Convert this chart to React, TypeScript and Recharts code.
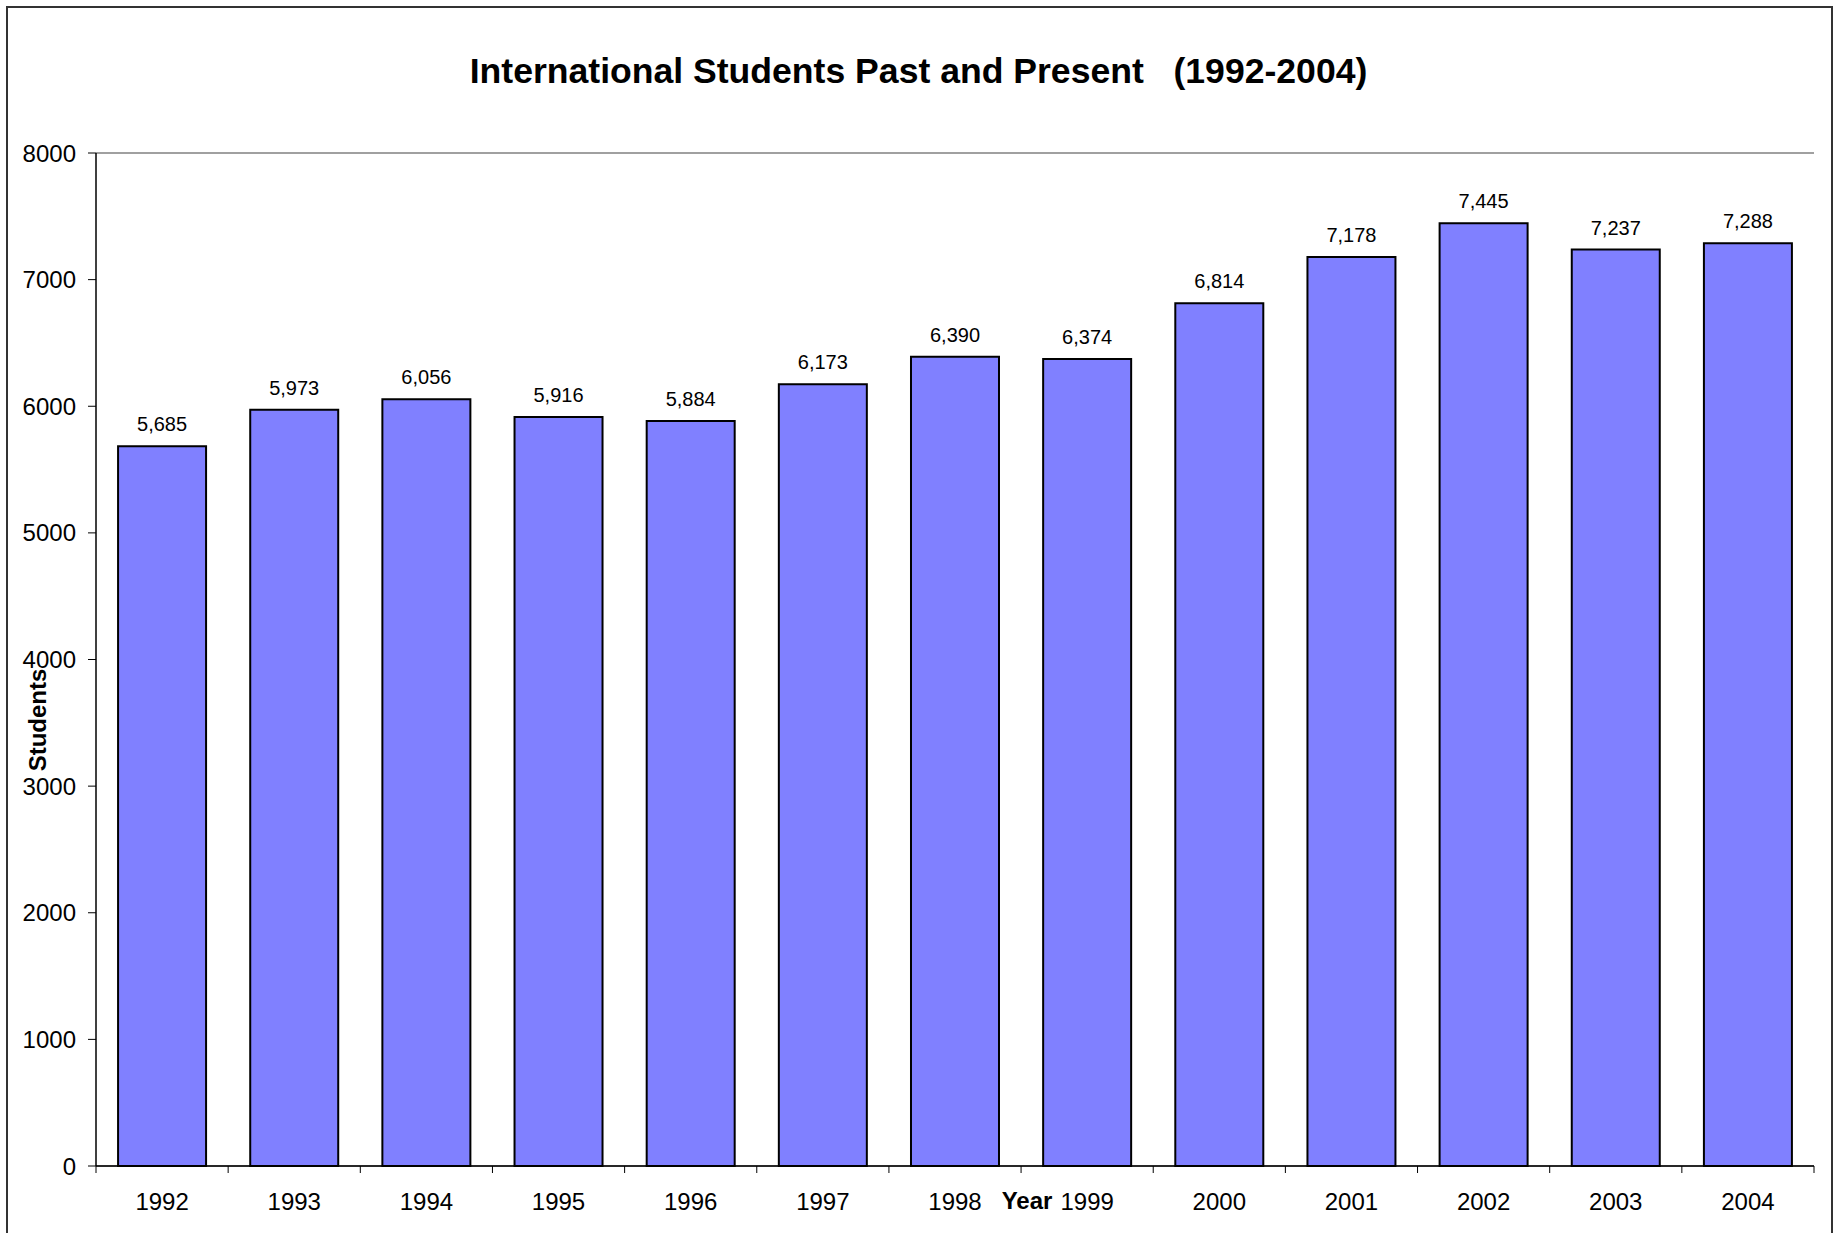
import React from 'react';
import { BarChart, Bar, XAxis, YAxis, CartesianGrid, LabelList } from 'recharts';

const years = ['1992', '1993', '1994', '1995', '1996', '1997', '1998', '1999', '2000', '2001', '2002', '2003', '2004'];
const students = [5685, 5973, 6056, 5916, 5884, 6173, 6390, 6374, 6814, 7178, 7445, 7237, 7288];
const yTicks = [0, 1000, 2000, 3000, 4000, 5000, 6000, 7000, 8000];

const data = years.map((y, i) => ({ year: y, students: students[i] }));

const FONT = '"Liberation Sans", Arial, sans-serif';
const O = -8; // offset so that coordinates below are page coordinates

const XTick = (props: any) => {
  const { x, y, payload, index } = props;
  const half = payload && payload.offset ? payload.offset : 0;
  const isLast = index === years.length - 1;
  return (
    <g>
      <line x1={x - half} y1={y} x2={x - half} y2={y + 7} stroke="#000" strokeWidth={1} />
      {isLast && <line x1={x + half} y1={y} x2={x + half} y2={y + 7} stroke="#000" strokeWidth={1} />}
      <text x={x} y={y + 44} textAnchor="middle" fontSize={24} fontFamily={FONT} fill="#000">
        {payload.value}
      </text>
    </g>
  );
};

const edge = { position: 'fixed' as const, background: '#333', zIndex: 10, pointerEvents: 'none' as const };

export default function App() {
  return (
    <div style={{ position: 'relative', width: 1825, height: 1217, fontFamily: FONT }}>
      <div style={{ position: 'absolute', left: O, top: O }}>
        <BarChart width={1841} height={1233} data={data} margin={{ top: 153, right: 27, bottom: 0, left: 16 }} barCategoryGap="16.7%">
          <CartesianGrid vertical={false} stroke="#808080" strokeWidth={1.5} />
          <XAxis dataKey="year" height={67} tickSize={0} tickMargin={0} tickLine={false} axisLine={{ stroke: '#000', strokeWidth: 1.5 }} tick={<XTick />} interval={0} />
          <YAxis yAxisId="left" width={80} domain={[0, 8000]} ticks={yTicks} tickSize={8} tickMargin={12} axisLine={{ stroke: '#000', strokeWidth: 1.5 }} tickLine={{ stroke: '#000' }} tick={{ fontSize: 24, fontFamily: FONT, fill: '#000' }} interval={0} />
          <YAxis yAxisId="right" orientation="right" width={0} domain={[0, 8000]} tick={false} tickLine={false} axisLine={{ stroke: '#808080', strokeWidth: 1.5 }} />
          <Bar yAxisId="left" dataKey="students" fill="#8080FF" stroke="#000" strokeWidth={2} isAnimationActive={false}>
            <LabelList dataKey="students" position="top" offset={15} fontSize={20} fontFamily={FONT} fill="#000" formatter={(v: any) => Number(v).toLocaleString('en-US')} />
          </Bar>
        </BarChart>
      </div>
      <div style={{ ...edge, left: 6, top: 6, width: 1827, height: 2 }} />
      <div style={{ ...edge, left: 6, top: 6, width: 2, height: 1227 }} />
      <div style={{ ...edge, left: 1831, top: 6, width: 2, height: 1227 }} />
      <div style={{ position: 'absolute', left: O, top: 54 + O, width: 1837, textAlign: 'center', fontSize: 35.6, lineHeight: '35px', fontWeight: 'bold', whiteSpace: 'pre', color: '#000', zIndex: 4 }}>
        {'International Students Past and Present   (1992-2004)'}
      </div>
      <div style={{ position: 'absolute', left: 38 - 100 + O, top: 720 - 15 + O, width: 200, height: 30, lineHeight: '30px', textAlign: 'center', fontSize: 24, fontWeight: 'bold', transform: 'rotate(-90deg)', color: '#000', zIndex: 4 }}>
        Students
      </div>
      <div style={{ position: 'absolute', left: 1027 - 60 + O, top: 1184 + O, width: 120, height: 34, lineHeight: '34px', textAlign: 'center', fontSize: 24, fontWeight: 'bold', color: '#000', zIndex: 4 }}>
        Year
      </div>
    </div>
  );
}
